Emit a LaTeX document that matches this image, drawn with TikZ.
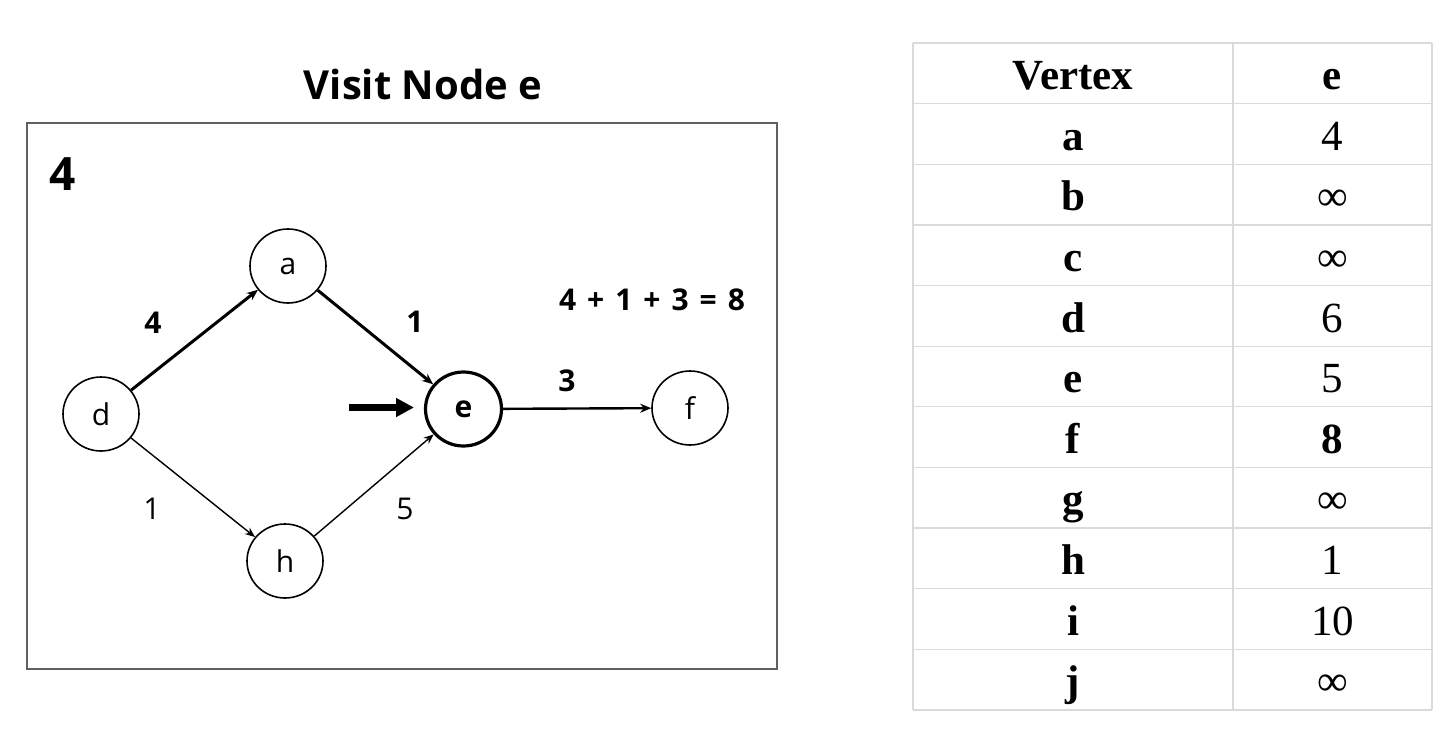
\documentclass[tikz,border=0pt]{standalone}
\usepackage{fontspec}
\setmainfont{Open Sans}
\newfontfamily\tabfont{Liberation Serif}
\usetikzlibrary{arrows.meta,shapes.geometric}
\definecolor{gridgray}{HTML}{DADADA}
\definecolor{boxgray}{HTML}{606060}
\tikzset{
  vtx/.style={ellipse, draw, minimum width=76pt, minimum height=74pt, inner sep=0pt,
    line width=1.6pt, font=\fontsize{30}{30}\selectfont, text depth=0pt},
  vtxcur/.style={vtx, line width=3.2pt, font=\fontsize{30}{30}\selectfont\bfseries},
  thinedge/.style={line width=1.4pt, -{Stealth[length=10pt,width=8pt]}},
  thickedge/.style={line width=3pt, -{Stealth[length=11pt,width=9pt]}},
  midedge/.style={line width=2.4pt, -{Stealth[length=11pt,width=9pt]}},
  wlab/.style={font=\fontsize{30}{30}\selectfont\bfseries},
  wlabr/.style={font=\fontsize{30}{30}\selectfont},
  hcell/.style={anchor=base, font=\tabfont\fontsize{43}{43}\selectfont\bfseries},
  vcell/.style={anchor=base, font=\tabfont\fontsize{43}{43}\selectfont},
}
\begin{document}
\begin{tikzpicture}[x=1pt,y=-1pt]
\useasboundingbox (0,0) rectangle (1456,731);
% left panel
\node[font=\fontsize{40}{40}\selectfont\bfseries, anchor=base] (title) at (423,99) {Visit Node e};
\draw[boxgray, line width=1.6pt] (27,123) rectangle (777,669);
\node[font=\fontsize{46}{46}\selectfont\bfseries] (step) at (63,174) {4};
% vertices
\node[vtx] (a) at (288,266) {a};
\node[vtx] (d) at (101,414) {d};
\node[vtxcur] (e) at (463.5,409) {e};
\node[vtx] (f) at (690,408) {f};
\node[vtx] (h) at (285,561) {h};
% edges
\draw[thickedge] (d) -- (a);
\draw[thickedge] (a) -- (e);
\draw[thinedge] (d) -- (h);
\draw[thinedge] (h) -- (e);
\draw[midedge] (e) -- (f);
% labels
\node[wlab] (l4) at (153,323) {4};
\node[wlab] (l1) at (415,322) {1};
\node[wlab] (l3) at (567,381) {3};
\node[wlabr] (l1b) at (152,509) {1};
\node[wlabr] (l5) at (405,509) {5};
\node[wlab] (eq) at (652,300) {4\hspace{11pt}+\hspace{11pt}1\hspace{11pt}+\hspace{11pt}3\hspace{11pt}=\hspace{11pt}8};
% pointer
\coordinate (ps) at (349,407.5);
\coordinate (pe) at (414,407.5);
\draw[line width=6.5pt, -{Triangle[length=18pt,width=18pt]}] (ps) -- (pe);
% table
\foreach \i in {0,...,11} {
  \draw[gridgray, line width=1.3pt] (913,{43+\i*60.64}) -- (1432,{43+\i*60.64});
}
\draw[gridgray, line width=1.3pt] (913,43) -- (913,710);
\draw[gridgray, line width=1.3pt] (1233,43) -- (1233,710);
\draw[gridgray, line width=1.3pt] (1432,43) -- (1432,710);
\node[hcell] (th1) at (1073,{43+46.5}) {Vertex};
\node[hcell] (th2) at (1332.5,{43+46.5}) {e};
\foreach \n/\v [count=\k] in {a/4,b/∞,c/∞,d/6,e/5,f/\textbf{8},g/∞,h/1,i/10,j/∞} {
  \node[hcell] (r\k) at (1073,{43+\k*60.64+46.5}) {\n};
  \node[vcell] (v\k) at (1332.5,{43+\k*60.64+46.5}) {\v};
}
\end{tikzpicture}
\end{document}
